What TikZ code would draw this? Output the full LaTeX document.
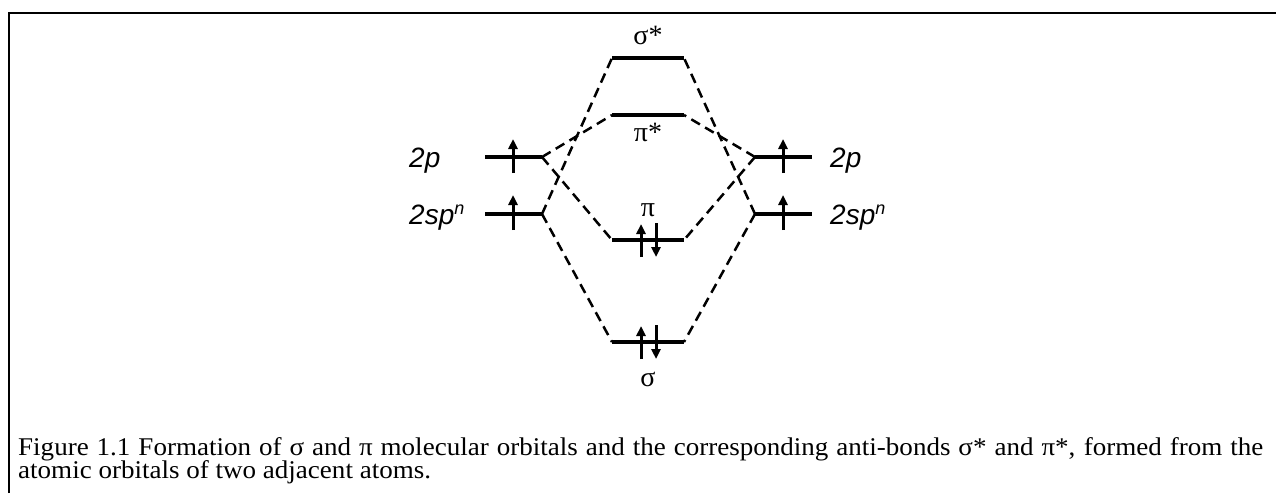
\documentclass[tikz,border=0pt]{standalone}
\usepackage{fontspec}
\setmainfont{Liberation Serif}
\newfontfamily\arial{Liberation Sans}
\newfontfamily\capfont[FakeStretch=1.06]{Liberation Serif}
\usetikzlibrary{arrows.meta}
\begin{document}
\begin{tikzpicture}[x=1pt,y=-1pt,
  level/.style={line width=3.2pt},
  conn/.style={line width=2.5pt, dash pattern=on 10pt off 6pt},
  eup/.style={line width=3pt, -{Triangle[length=10pt,width=9pt]}},
  lbl/.style={font=\arial\itshape\fontsize{28}{32}\selectfont, inner sep=0pt},
  glbl/.style={font=\fontsize{28}{32}\selectfont, inner sep=0pt},
  captext/.style={font=\capfont\fontsize{25.5}{21}\selectfont, inner sep=0pt, anchor=base west},
  frame/.style={line width=2.7pt}]
\useasboundingbox (0,0) rectangle (1276,493);
\draw[frame] (9,493) -- (9,13) -- (1276,13);
% atomic levels
\coordinate (L2pA) at (485,157); \coordinate (L2pB) at (542,157);
\coordinate (LspA) at (485,214); \coordinate (LspB) at (542,214);
\coordinate (R2pA) at (755,157); \coordinate (R2pB) at (812,157);
\coordinate (RspA) at (755,214); \coordinate (RspB) at (812,214);
% molecular levels
\coordinate (ssA) at (612,58);  \coordinate (ssB) at (684,58);
\coordinate (psA) at (612,115); \coordinate (psB) at (684,115);
\coordinate (pA) at (612,240);  \coordinate (pB) at (684,240);
\coordinate (sA) at (612,342);  \coordinate (sB) at (684,342);
\foreach \a/\b in {L2pA/L2pB,LspA/LspB,R2pA/R2pB,RspA/RspB,ssA/ssB,psA/psB,pA/pB,sA/sB}
  \draw[level] (\a) -- (\b);
% dashed connectors
\draw[conn] (L2pB) -- (psA);
\draw[conn] (L2pB) -- (pA);
\draw[conn] (LspB) -- (ssA);
\draw[conn] (LspB) -- (sA);
\draw[conn] (R2pA) -- (psB);
\draw[conn] (R2pA) -- (pB);
\draw[conn] (RspA) -- (ssB);
\draw[conn] (RspA) -- (sB);
% electrons
\coordinate (e1a) at (513,173); \coordinate (e1b) at (513,139);
\coordinate (e2a) at (513,230); \coordinate (e2b) at (513,195);
\coordinate (e3a) at (783,173); \coordinate (e3b) at (783,139);
\coordinate (e4a) at (783,230); \coordinate (e4b) at (783,195);
\coordinate (e5a) at (641,257); \coordinate (e5b) at (641,224);
\coordinate (e6a) at (656,223); \coordinate (e6b) at (656,257);
\coordinate (e7a) at (641,359); \coordinate (e7b) at (641,326);
\coordinate (e8a) at (656,325); \coordinate (e8b) at (656,359);
\foreach \a/\b in {e1a/e1b,e2a/e2b,e3a/e3b,e4a/e4b,e5a/e5b,e6a/e6b,e7a/e7b,e8a/e8b}
  \draw[eup] (\a) -- (\b);
% labels
\node[lbl, anchor=base west] (t1) at (409,167) {2p};
\node[lbl, anchor=base west] (t2) at (409,224) {2sp\textsuperscript{\fontsize{18}{18}\selectfont n}};
\node[lbl, anchor=base west] (t3) at (830,167) {2p};
\node[lbl, anchor=base west] (t4) at (830,224) {2sp\textsuperscript{\fontsize{18}{18}\selectfont n}};
\node[glbl, anchor=base] (m1) at (648,44) {σ*};
\node[glbl, anchor=base] (m2) at (648,141) {π*};
\node[glbl, anchor=base] (m3) at (648,216) {π};
\node[glbl, anchor=base] (m4) at (648,386) {σ};
% caption
\node[captext] (cap1) at (18,455)
  {\makebox[1245pt][s]{Figure 1.1 Formation of σ and π molecular orbitals and the corresponding anti-bonds σ* and π*, formed from the}};
\node[captext] (cap2) at (18,478) {atomic orbitals of two adjacent atoms.};
\end{tikzpicture}
\end{document}
